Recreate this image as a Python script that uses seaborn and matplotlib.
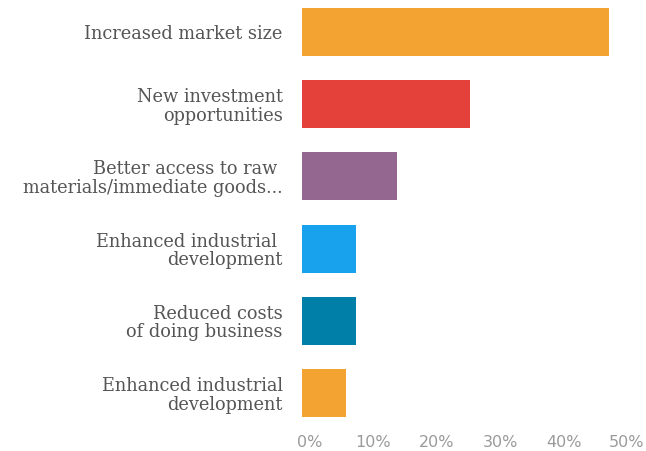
import matplotlib
matplotlib.use("Agg")
import matplotlib.pyplot as plt
import matplotlib.transforms as mtransforms
import seaborn as sns
import pandas as pd

# Survey results: share of respondents per expected benefit (%)
benefits = [
    "Increased market size",
    "New investment\nopportunities",
    "Better access to raw \nmaterials/immediate goods...",
    "Enhanced industrial \ndevelopment",
    "Reduced costs\nof doing business",
    "Enhanced industrial\ndevelopment",
]
shares = [48.4, 26.5, 15.0, 8.5, 8.5, 6.9]
bar_colors = ["#F3A331", "#E5413B", "#946791", "#18A2EE", "#007FA8", "#F3A331"]
tick_values = [0, 10, 20, 30, 40, 50]
tick_labels = ["0%", "10%", "20%", "30%", "40%", "50%"]

df = pd.DataFrame({"benefit": benefits, "share": shares})

sns.set_theme(style="white")
plt.rcParams["font.family"] = ["DejaVu Sans"]

fig = plt.figure(figsize=(6.46, 4.51), dpi=100)
ax = fig.add_axes([302 / 646, 22 / 451, 317 / 646, 429 / 451])

sns.barplot(
    data=df, x="share", y="benefit", hue="benefit",
    palette=bar_colors, order=benefits, hue_order=benefits,
    width=0.665, saturation=1, legend=False, linewidth=0, ax=ax,
)

ax.set_xlim(0, 50)
ax.set_ylim(5.5, -0.443)
ax.set_xlabel("")
ax.set_ylabel("")
for s in ax.spines.values():
    s.set_visible(False)

ax.set_xticks(tick_values)
ax.set_xticklabels(tick_labels, color="#9a9a9a", fontsize=11.5,
                   family=["DejaVu Sans"])
ax.tick_params(axis="x", length=0, pad=4)
shift = mtransforms.ScaledTranslation(8 / 100, 0, fig.dpi_scale_trans)
for lbl in ax.get_xticklabels():
    lbl.set_transform(lbl.get_transform() + shift)

ax.set_yticks(range(len(benefits)))
ax.set_yticklabels(benefits, color="#555555", fontsize=12.8,
                   family=["DejaVu Serif"], linespacing=1.05)
ax.tick_params(axis="y", length=0, pad=14)

fig.savefig("out.png", dpi=100)
